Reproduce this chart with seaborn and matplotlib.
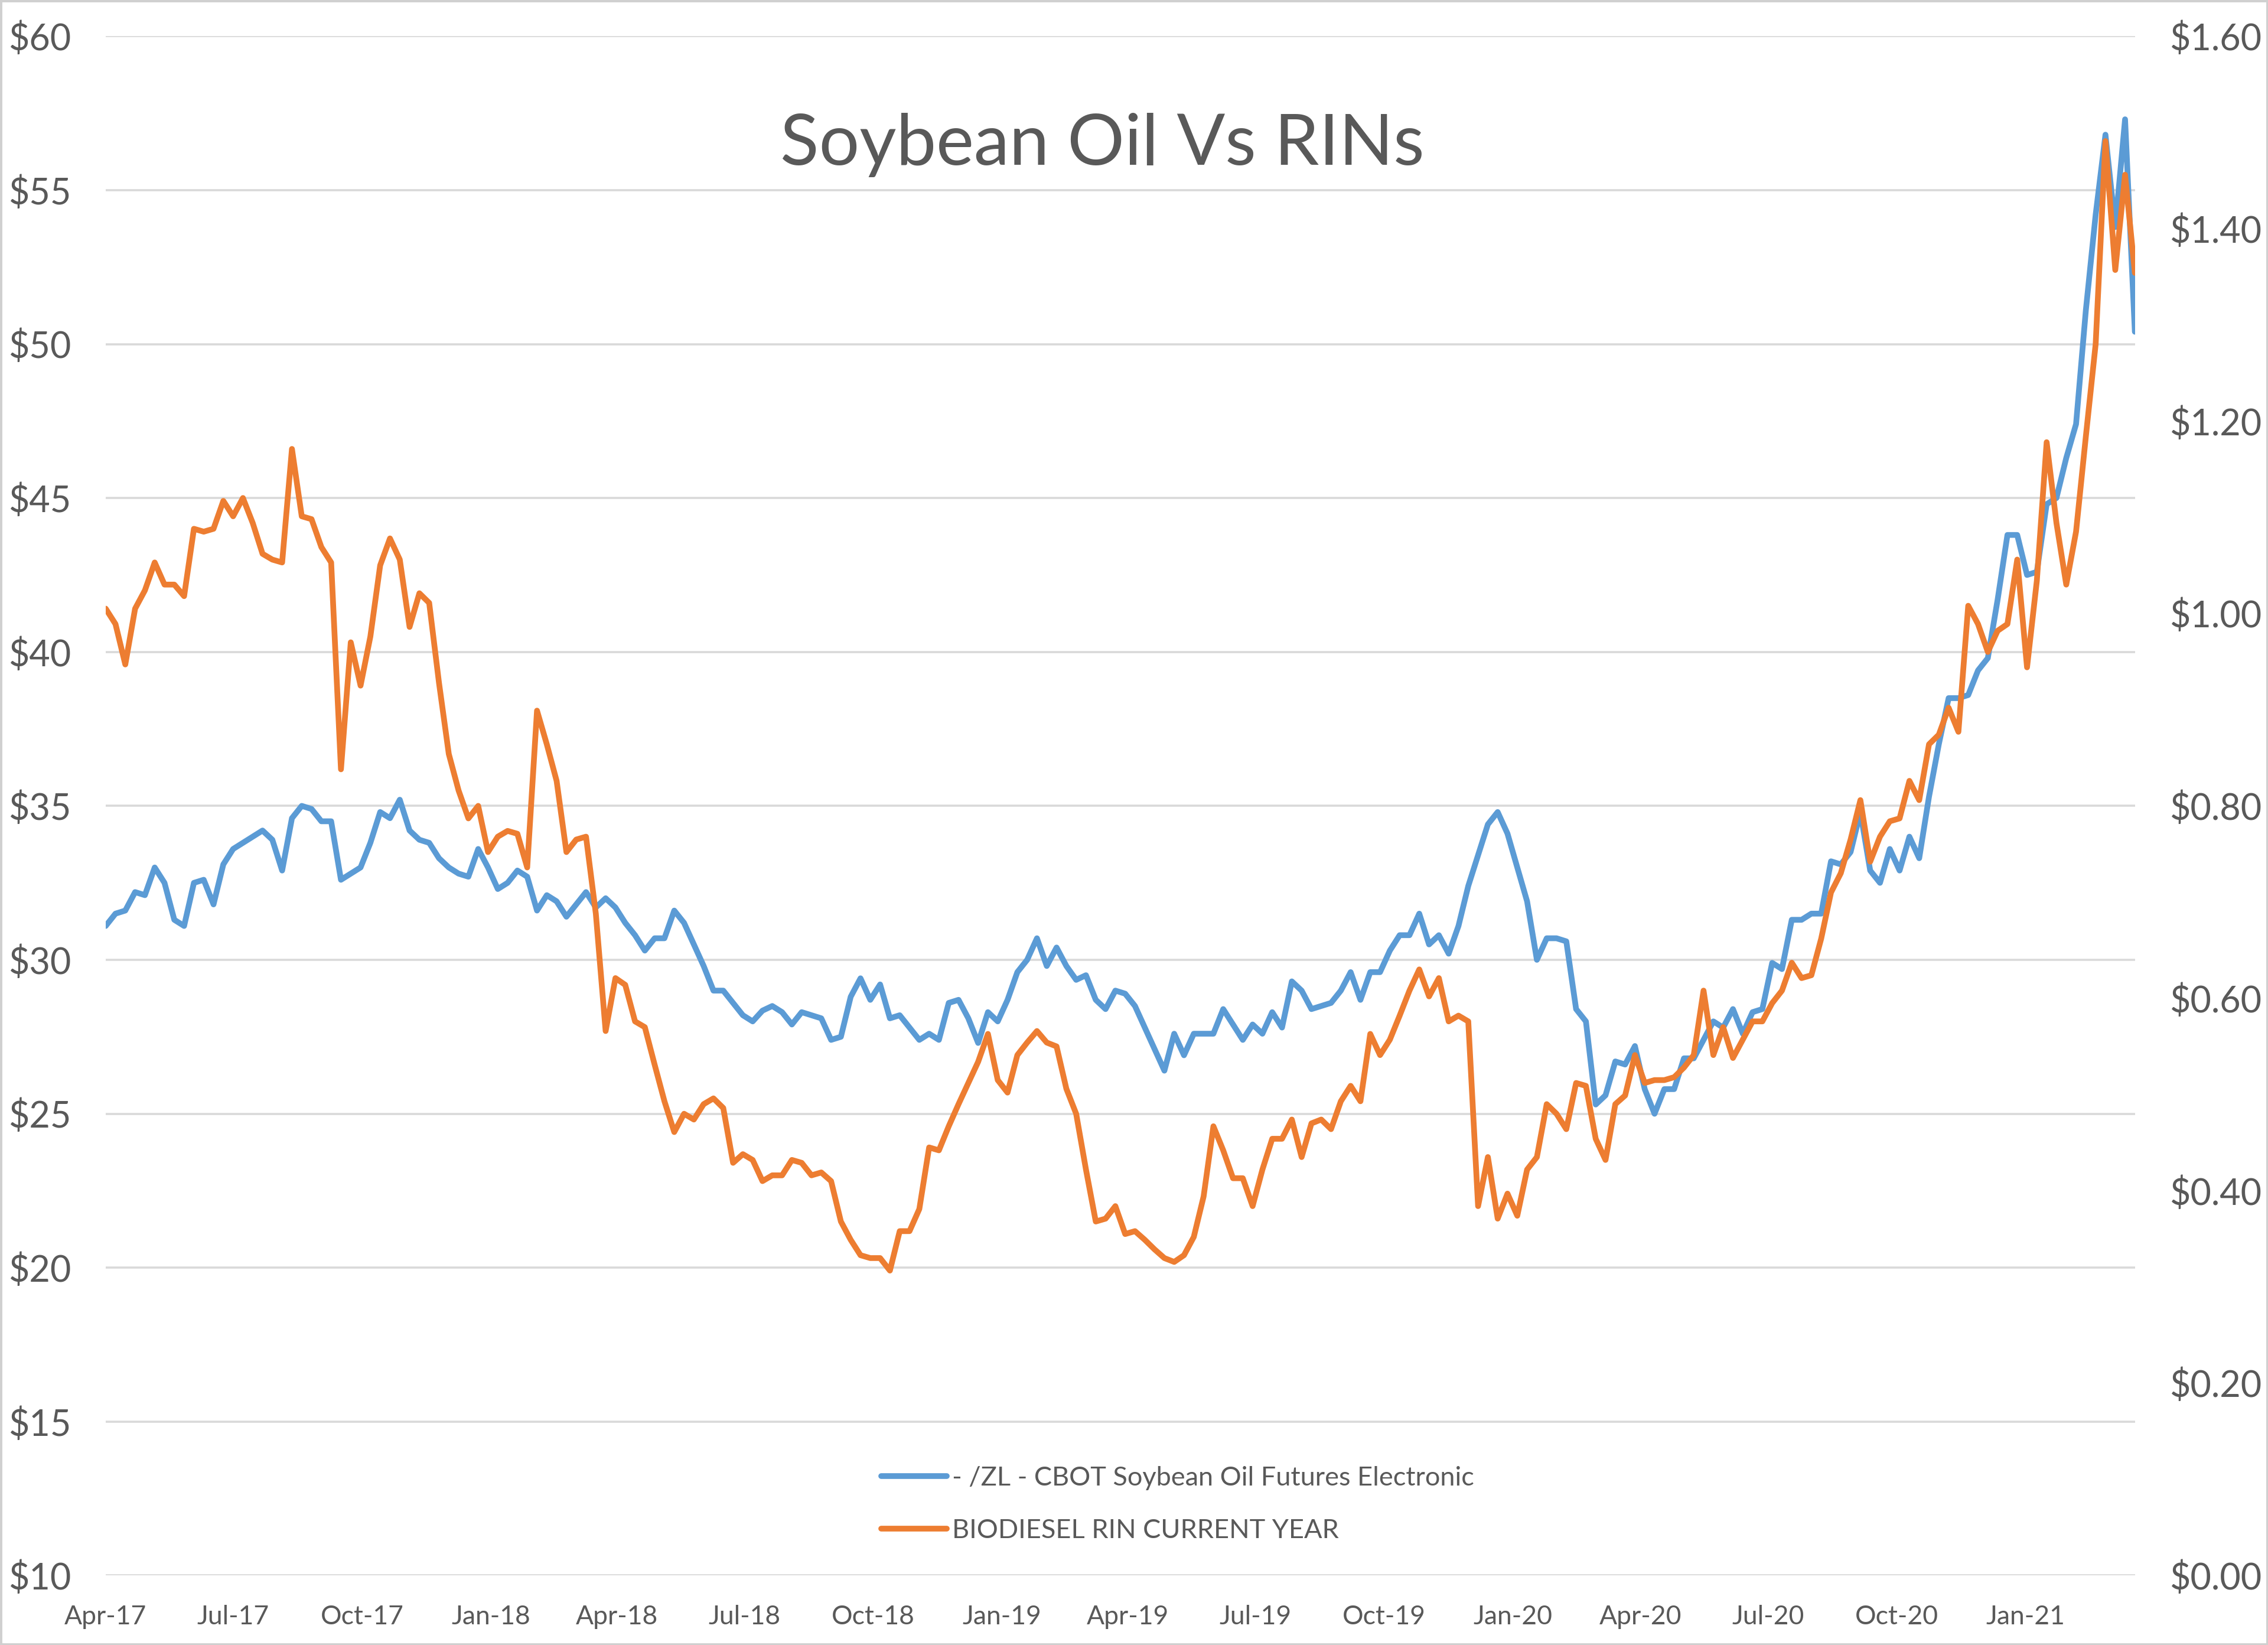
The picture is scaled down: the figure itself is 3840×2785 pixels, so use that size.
import pandas as pd
import matplotlib
matplotlib.use("Agg")
import matplotlib.pyplot as plt
import matplotlib.dates as mdates
from matplotlib.ticker import FuncFormatter, MultipleLocator
from matplotlib.patches import Rectangle
import seaborn as sns

# weekly closes, first week starting 2017-04-01
start_date = "2017-04-01"

# /ZL soybean oil futures, $ (left axis)
soy_oil = [
    31.1, 31.5, 31.6, 32.2, 32.1, 33.0, 32.5, 31.3, 31.1, 32.5,
    32.6, 31.8, 33.1, 33.6, 33.8, 34.0, 34.2, 33.9, 32.9, 34.6,
    35.0, 34.9, 34.5, 34.5, 32.6, 32.8, 33.0, 33.8, 34.8, 34.6,
    35.2, 34.2, 33.9, 33.8, 33.3, 33.0, 32.8, 32.7, 33.6, 33.0,
    32.3, 32.5, 32.9, 32.7, 31.6, 32.1, 31.9, 31.4, 31.8, 32.2,
    31.7, 32.0, 31.7, 31.2, 30.8, 30.3, 30.7, 30.7, 31.6, 31.2,
    30.5, 29.8, 29.0, 29.0, 28.6, 28.2, 28.0, 28.35, 28.5, 28.3,
    27.9, 28.3, 28.2, 28.1, 27.4, 27.5, 28.8, 29.4, 28.7, 29.2,
    28.1, 28.2, 27.8, 27.4, 27.6, 27.4, 28.6, 28.7, 28.1, 27.3,
    28.3, 28.0, 28.7, 29.6, 30.0, 30.7, 29.8, 30.4, 29.8, 29.35,
    29.5, 28.7, 28.4, 29.0, 28.9, 28.5, 27.8, 27.1, 26.4, 27.6,
    26.9, 27.6, 27.6, 27.6, 28.4, 27.9, 27.4, 27.9, 27.6, 28.3,
    27.8, 29.3, 29.0, 28.4, 28.5, 28.6, 29.0, 29.6, 28.7, 29.6,
    29.6, 30.3, 30.8, 30.8, 31.5, 30.5, 30.8, 30.2, 31.1, 32.4,
    33.4, 34.4, 34.8, 34.1, 33.0, 31.9, 30.0, 30.7, 30.7, 30.6,
    28.4, 28.0, 25.3, 25.6, 26.7, 26.6, 27.2, 25.8, 25.0, 25.8,
    25.8, 26.8, 26.8, 27.4, 28.0, 27.8, 28.4, 27.6, 28.3, 28.4,
    29.9, 29.7, 31.3, 31.3, 31.5, 31.5, 33.2, 33.1, 33.5, 34.8,
    32.9, 32.5, 33.6, 32.9, 34.0, 33.3, 35.3, 37.0, 38.5, 38.5,
    38.6, 39.4, 39.8, 41.7, 43.8, 43.8, 42.5, 42.6, 44.8, 45.0,
    46.3, 47.4, 51.1, 54.2, 56.8, 53.8, 57.3, 50.4,
]

# biodiesel RIN current year, $ (right axis)
rin = [
    1.005, 0.989, 0.947, 1.005, 1.024, 1.053, 1.030, 1.030, 1.018, 1.088,
    1.085, 1.088, 1.117, 1.101, 1.120, 1.094, 1.062, 1.056, 1.053, 1.171,
    1.101, 1.098, 1.069, 1.053, 0.838, 0.970, 0.925, 0.976, 1.050, 1.078,
    1.056, 0.986, 1.021, 1.011, 0.928, 0.854, 0.816, 0.787, 0.800, 0.752,
    0.768, 0.774, 0.771, 0.736, 0.899, 0.864, 0.826, 0.752, 0.765, 0.768,
    0.688, 0.566, 0.621, 0.614, 0.576, 0.570, 0.531, 0.493, 0.461, 0.480,
    0.474, 0.490, 0.496, 0.486, 0.429, 0.438, 0.432, 0.410, 0.416, 0.416,
    0.432, 0.429, 0.416, 0.419, 0.410, 0.368, 0.349, 0.333, 0.330, 0.330,
    0.317, 0.358, 0.358, 0.381, 0.445, 0.442, 0.467, 0.490, 0.512, 0.534,
    0.563, 0.515, 0.502, 0.541, 0.554, 0.566, 0.554, 0.550, 0.506, 0.480,
    0.422, 0.368, 0.371, 0.384, 0.355, 0.358, 0.349, 0.339, 0.330, 0.326,
    0.333, 0.352, 0.394, 0.467, 0.442, 0.413, 0.413, 0.384, 0.422, 0.454,
    0.454, 0.474, 0.435, 0.470, 0.474, 0.464, 0.493, 0.509, 0.493, 0.563,
    0.541, 0.557, 0.582, 0.608, 0.630, 0.602, 0.621, 0.576, 0.582, 0.576,
    0.384, 0.435, 0.371, 0.397, 0.374, 0.422, 0.435, 0.490, 0.480, 0.464,
    0.512, 0.509, 0.454, 0.432, 0.490, 0.499, 0.541, 0.512, 0.515, 0.515,
    0.518, 0.528, 0.541, 0.608, 0.541, 0.570, 0.538, 0.557, 0.576, 0.576,
    0.595, 0.608, 0.637, 0.621, 0.624, 0.662, 0.710, 0.730, 0.765, 0.806,
    0.742, 0.768, 0.784, 0.787, 0.826, 0.806, 0.864, 0.874, 0.902, 0.877,
    1.008, 0.989, 0.960, 0.982, 0.989, 1.056, 0.944, 1.034, 1.178, 1.094,
    1.030, 1.085, 1.184, 1.280, 1.491, 1.357, 1.456, 1.354,
]

soy_label = "- /ZL - CBOT Soybean Oil Futures Electronic"
rin_label = "BIODIESEL RIN CURRENT YEAR"
title = "Soybean Oil Vs RINs"

BLUE = "#5B9BD5"
ORANGE = "#ED7D31"
GREY_TXT = "#595959"
GRID = "#D9D9D9"

dates = pd.date_range(start_date, periods=len(soy_oil), freq="7D")
df = pd.DataFrame({"date": dates, "soy": soy_oil, "rin": rin})

sns.set_style("white")
plt.rcParams["font.family"] = ["Lato", "DejaVu Sans"]

fig = plt.figure(figsize=(38.4, 27.85), dpi=100)
ax = fig.add_axes([0.0466, 0.0422, 0.8947, 0.9358])
ax2 = ax.twinx()

sns.lineplot(data=df, x="date", y="soy", ax=ax, color=BLUE, linewidth=7)
sns.lineplot(data=df, x="date", y="rin", ax=ax2, color=ORANGE, linewidth=7)

# axes ranges and ticks
ax.set_ylim(10, 60)
ax2.set_ylim(0, 1.6)
ax.set_xlim(dates[0], dates[-1])
ax.yaxis.set_major_locator(MultipleLocator(5))
ax2.yaxis.set_major_locator(MultipleLocator(0.2))
ax.yaxis.set_major_formatter(FuncFormatter(lambda v, p: f"${v:.0f}"))
ax2.yaxis.set_major_formatter(FuncFormatter(lambda v, p: f"${v:.2f}"))
ax.xaxis.set_major_locator(mdates.MonthLocator(bymonth=[1, 4, 7, 10]))
ax.xaxis.set_major_formatter(mdates.DateFormatter("%b-%y"))

ax.yaxis.grid(True, color=GRID, linewidth=2.6)
ax.xaxis.grid(False)
ax.set_axisbelow(True)

for a in (ax, ax2):
    a.set_xlabel("")
    a.set_ylabel("")
    for s in a.spines.values():
        s.set_visible(False)

ax.tick_params(axis="y", length=0, pad=42, labelsize=44, labelcolor=GREY_TXT)
ax2.tick_params(axis="y", length=0, pad=42, labelsize=44, labelcolor=GREY_TXT)
ax.tick_params(axis="x", length=0, pad=36, labelsize=32, labelcolor=GREY_TXT)

# title inside the plot area
fig.text(0.486, 0.912, title, ha="center", va="center", fontsize=87, color=GREY_TXT)

# legend at bottom centre
handles = [ax.get_lines()[0], ax2.get_lines()[0]]
leg = fig.legend(handles, [soy_label, rin_label], loc="center left",
                 bbox_to_anchor=(0.378, 0.0855), frameon=False,
                 prop={"size": 32.5}, labelcolor=GREY_TXT,
                 handlelength=2.45, handletextpad=0.2, labelspacing=1.08)

# light chart-area border
fig.patches.append(Rectangle((0, 0), 1, 1, transform=fig.transFigure, fill=False,
                             edgecolor="#D0D0D0", linewidth=5))

fig.savefig("out.png", dpi=100, facecolor="white")
